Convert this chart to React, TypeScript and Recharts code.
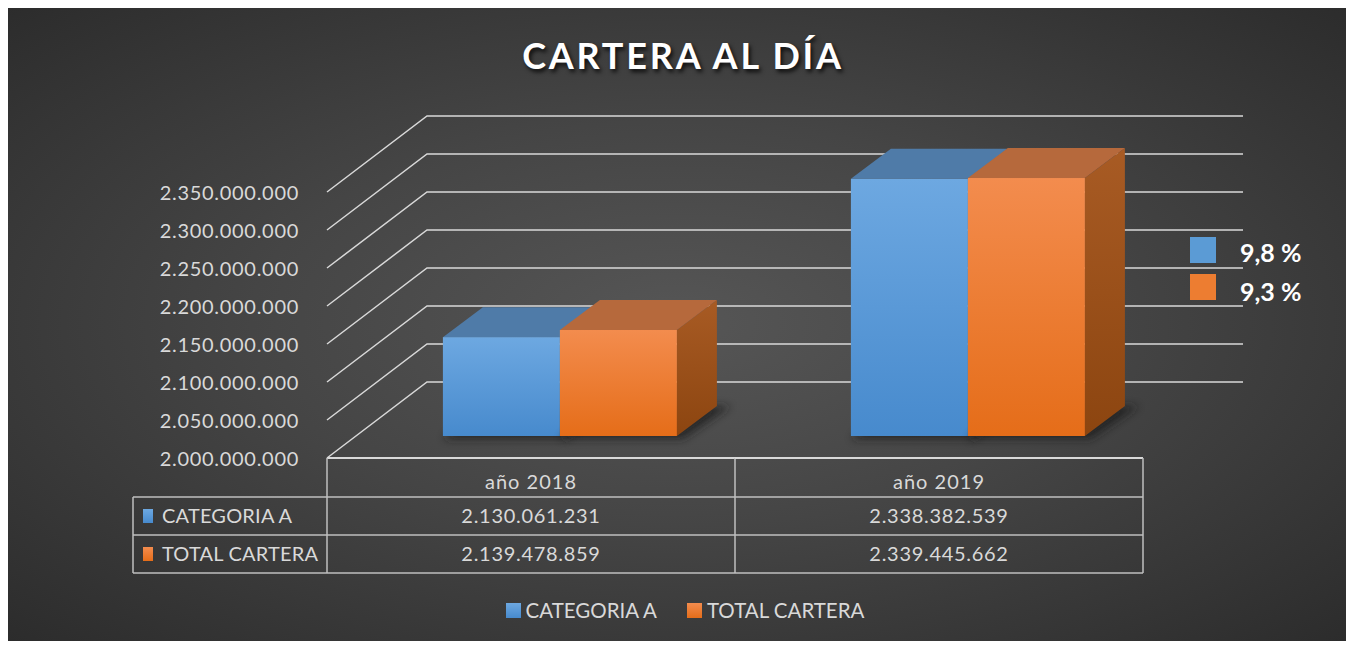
import React from 'react';
import { BarChart, Bar, XAxis, YAxis, CartesianGrid } from 'recharts';

// datos
const anios = ['año 2018', 'año 2019'];
const categoriaA = [2130061231, 2338382539];
const totalCartera = [2139478859, 2339445662];
const ticksY = [
  2000000000, 2050000000, 2100000000, 2150000000,
  2200000000, 2250000000, 2300000000, 2350000000,
];
const variaciones = ['9,8 %', '9,3 %'];

const series = [
  { key: 'categoriaA', name: 'CATEGORIA A', front: ['#6DA8E1', '#478ACD'], top: '#4F7BA8', side: ['#3F6E9E', '#2F5A86'], flat: '#5B9BD5' },
  { key: 'totalCartera', name: 'TOTAL CARTERA', front: ['#F38C4E', '#E56D19'], top: '#B6693C', side: ['#A85B24', '#8C4510'], flat: '#ED7D31' },
];

const data = anios.map((anio, i) => ({
  anio,
  categoriaA: categoriaA[i],
  totalCartera: totalCartera[i],
}));

const fmt = (v: number) => String(v).replace(/\B(?=(\d{3})+(?!\d))/g, '.');

// medidas
const W = 1338;
const H = 635;
const PLOT_LEFT = 348;
const PLOT_RIGHT = 1164;
const PLOT_TOP = 164;
const PLOT_BOTTOM = 430;
const BAND = (PLOT_RIGHT - PLOT_LEFT) / anios.length;
const FRONT_DX = -29;
const FRONT_DY = 22;
const BACK_DX = 71;
const BACK_DY = -54;
const BAR_DX = 40;
const BAR_DY = 30;

const TABLE_TOP = PLOT_BOTTOM + FRONT_DY;
const ROW1 = TABLE_TOP + 39;
const ROW2 = ROW1 + 38;
const TABLE_BOTTOM = ROW2 + 38;
const LABEL_LEFT = 125;

const TXT = '#D9D9D9';
const LINE = '#BFBFBF';
const FONT = 'Lato, "Noto Sans", sans-serif';
const NUM_SPACING = 0.7;

const gridLine = (p: any) => {
  const { x1, x2, y1 } = p;
  const pts = `${x1 + FRONT_DX},${y1 + FRONT_DY} ${x1 + BACK_DX},${y1 + BACK_DY} ${x2 + BACK_DX},${y1 + BACK_DY}`;
  return <polyline key={`g-${p.index}-${y1}`} points={pts} fill="none" stroke={TXT} strokeWidth={1.5} />;
};

const YTick = (p: any) => (
  <text
    x={PLOT_LEFT - 57}
    y={p.y + FRONT_DY}
    textAnchor="end"
    dominantBaseline="central"
    fill={TXT}
    fontSize={20}
    fontFamily={FONT}
    letterSpacing={NUM_SPACING}
  >
    {fmt(p.payload.value)}
  </text>
);

const XTick = (p: any) => {
  const i = p.index;
  const cx = p.x + FRONT_DX;
  const l = cx - BAND / 2;
  const r = cx + BAND / 2;
  const rowMid = [(TABLE_TOP + ROW1) / 2, (ROW1 + ROW2) / 2, (ROW2 + TABLE_BOTTOM) / 2];
  return (
    <g>
      <line x1={l} x2={r} y1={TABLE_TOP} y2={TABLE_TOP} stroke={TXT} strokeWidth={2} />
      {[ROW1, ROW2, TABLE_BOTTOM].map((yy) => (
        <line key={yy} x1={l} x2={r} y1={yy} y2={yy} stroke={LINE} strokeWidth={1.5} />
      ))}
      <line x1={r} x2={r} y1={TABLE_TOP} y2={TABLE_BOTTOM} stroke={LINE} strokeWidth={1.5} />
      {i === 0 && (
        <g>
          <line x1={l} x2={l} y1={TABLE_TOP} y2={TABLE_BOTTOM} stroke={LINE} strokeWidth={1.5} />
          <line x1={LABEL_LEFT} x2={LABEL_LEFT} y1={ROW1} y2={TABLE_BOTTOM} stroke={LINE} strokeWidth={1.5} />
          {[ROW1, ROW2, TABLE_BOTTOM].map((yy) => (
            <line key={yy} x1={LABEL_LEFT} x2={l} y1={yy} y2={yy} stroke={LINE} strokeWidth={1.5} />
          ))}
          {series.map((s, k) => (
            <g key={s.key}>
              <rect x={LABEL_LEFT + 10} y={rowMid[k + 1] - 7} width={10} height={14} fill={`url(#legend-${s.key})`} />
              <text x={LABEL_LEFT + 29} y={rowMid[k + 1] - 1} dominantBaseline="central" fill={TXT} fontSize={20} fontFamily={FONT} letterSpacing={0.2}>
                {s.name}
              </text>
            </g>
          ))}
        </g>
      )}
      <text x={cx} y={rowMid[0] + 3} textAnchor="middle" dominantBaseline="central" fill={TXT} fontSize={20} fontFamily={FONT} letterSpacing={1}>
        {p.payload.value}
      </text>
      <text x={cx} y={rowMid[1] - 1} textAnchor="middle" dominantBaseline="central" fill={TXT} fontSize={20} fontFamily={FONT} letterSpacing={NUM_SPACING}>
        {fmt(categoriaA[i])}
      </text>
      <text x={cx} y={rowMid[2] - 1} textAnchor="middle" dominantBaseline="central" fill={TXT} fontSize={20} fontFamily={FONT} letterSpacing={NUM_SPACING}>
        {fmt(totalCartera[i])}
      </text>
    </g>
  );
};

const box3d = (s: typeof series[number]) => (p: any) => {
  const { x, y, width: w, height: h, index } = p;
  const id = `${s.key}-${index}`;
  const b = y + h;
  return (
    <g>
      <defs>
        <linearGradient id={`fr-${id}`} x1="0" y1="0" x2="0" y2="1">
          <stop offset="0%" stopColor={s.front[0]} />
          <stop offset="100%" stopColor={s.front[1]} />
        </linearGradient>
        <linearGradient id={`sd-${id}`} x1="0" y1="0" x2="0" y2="1">
          <stop offset="0%" stopColor={s.side[0]} />
          <stop offset="100%" stopColor={s.side[1]} />
        </linearGradient>
        <filter id={`sh-${id}`} x="-20%" y="-50%" width="140%" height="200%">
          <feGaussianBlur stdDeviation={4} />
        </filter>
      </defs>
      <polygon
        points={`${x},${b + 3} ${x + w + 6},${b + 3} ${x + w + BAR_DX + 14},${b - BAR_DY} ${x + BAR_DX},${b - BAR_DY}`}
        fill="#1a1a1a"
        opacity={0.75}
        filter={`url(#sh-${id})`}
      />
      <polygon
        points={`${x + w},${y} ${x + w + BAR_DX},${y - BAR_DY} ${x + w + BAR_DX},${b - BAR_DY} ${x + w},${b}`}
        fill={`url(#sd-${id})`}
      />
      <polygon
        points={`${x},${y} ${x + w},${y} ${x + w + BAR_DX},${y - BAR_DY} ${x + BAR_DX},${y - BAR_DY}`}
        fill={s.top}
      />
      <rect x={x} y={y} width={w} height={h} fill={`url(#fr-${id})`} />
    </g>
  );
};

export default function App() {
  return (
    <div
      style={{
        position: 'relative',
        top: -2,
        width: W,
        height: H,
        background: 'radial-gradient(ellipse at 50% 50%, #565656 0%, #454545 45%, #2c2c2c 100%)',
        fontFamily: FONT,
      }}
    >
      <div
        style={{
          position: 'absolute',
          top: 27,
          left: 0,
          width: W,
          paddingLeft: 6,
          textAlign: 'center',
          color: '#FFFFFF',
          fontSize: 36,
          fontWeight: 700,
          letterSpacing: 2.8,
          textShadow: '2px 3px 4px rgba(0,0,0,0.8)',
        }}
      >
        CARTERA AL DÍA
      </div>

      <BarChart
        width={W}
        height={H}
        data={data}
        margin={{ top: PLOT_TOP, right: W - PLOT_RIGHT, bottom: H - PLOT_BOTTOM - 1, left: PLOT_LEFT - 1 }}
        barCategoryGap="21.3%"
        barGap={0}
        style={{ position: 'absolute', left: 0, top: 0 }}
      >
        <defs>
          {series.map((s) => (
            <linearGradient key={s.key} id={`legend-${s.key}`} x1="0" y1="0" x2="0" y2="1">
              <stop offset="0%" stopColor={s.front[0]} />
              <stop offset="100%" stopColor={s.front[1]} />
            </linearGradient>
          ))}
        </defs>
        <CartesianGrid vertical={false} horizontal={gridLine} fill="none" />
        <XAxis dataKey="anio" height={1} axisLine={false} tickLine={false} interval={0} tick={<XTick />} />
        <YAxis
          width={1}
          domain={[ticksY[0], ticksY[ticksY.length - 1]]}
          ticks={ticksY}
          interval={0}
          axisLine={false}
          tickLine={false}
          tick={<YTick />}
        />
        {series.map((s) => (
          <Bar key={s.key} dataKey={s.key} name={s.name} fill={s.flat} shape={box3d(s)} isAnimationActive={false} />
        ))}
      </BarChart>

      {variaciones.map((v, i) => (
        <div key={v} style={{ position: 'absolute', left: 1182, top: 230 + i * 37, height: 27, display: 'flex', alignItems: 'center' }}>
          <div style={{ width: 26, height: 26, background: series[i].flat }} />
          <span style={{ marginLeft: 24, marginTop: 4 + i * 4, color: '#FFFFFF', fontWeight: 700, fontSize: 25, whiteSpace: 'pre' }}>{v}</span>
        </div>
      ))}

      <div
        style={{
          position: 'absolute',
          top: 592,
          left: 8,
          width: W,
          display: 'flex',
          justifyContent: 'center',
          alignItems: 'center',
          gap: 30,
        }}
      >
        {series.map((s) => (
          <div key={s.key} style={{ display: 'flex', alignItems: 'center' }}>
            <div style={{ width: 15, height: 15, background: `linear-gradient(${s.front[0]}, ${s.front[1]})` }} />
            <span style={{ marginLeft: 5, color: TXT, fontSize: 20.5 }}>{s.name}</span>
          </div>
        ))}
      </div>
    </div>
  );
}
